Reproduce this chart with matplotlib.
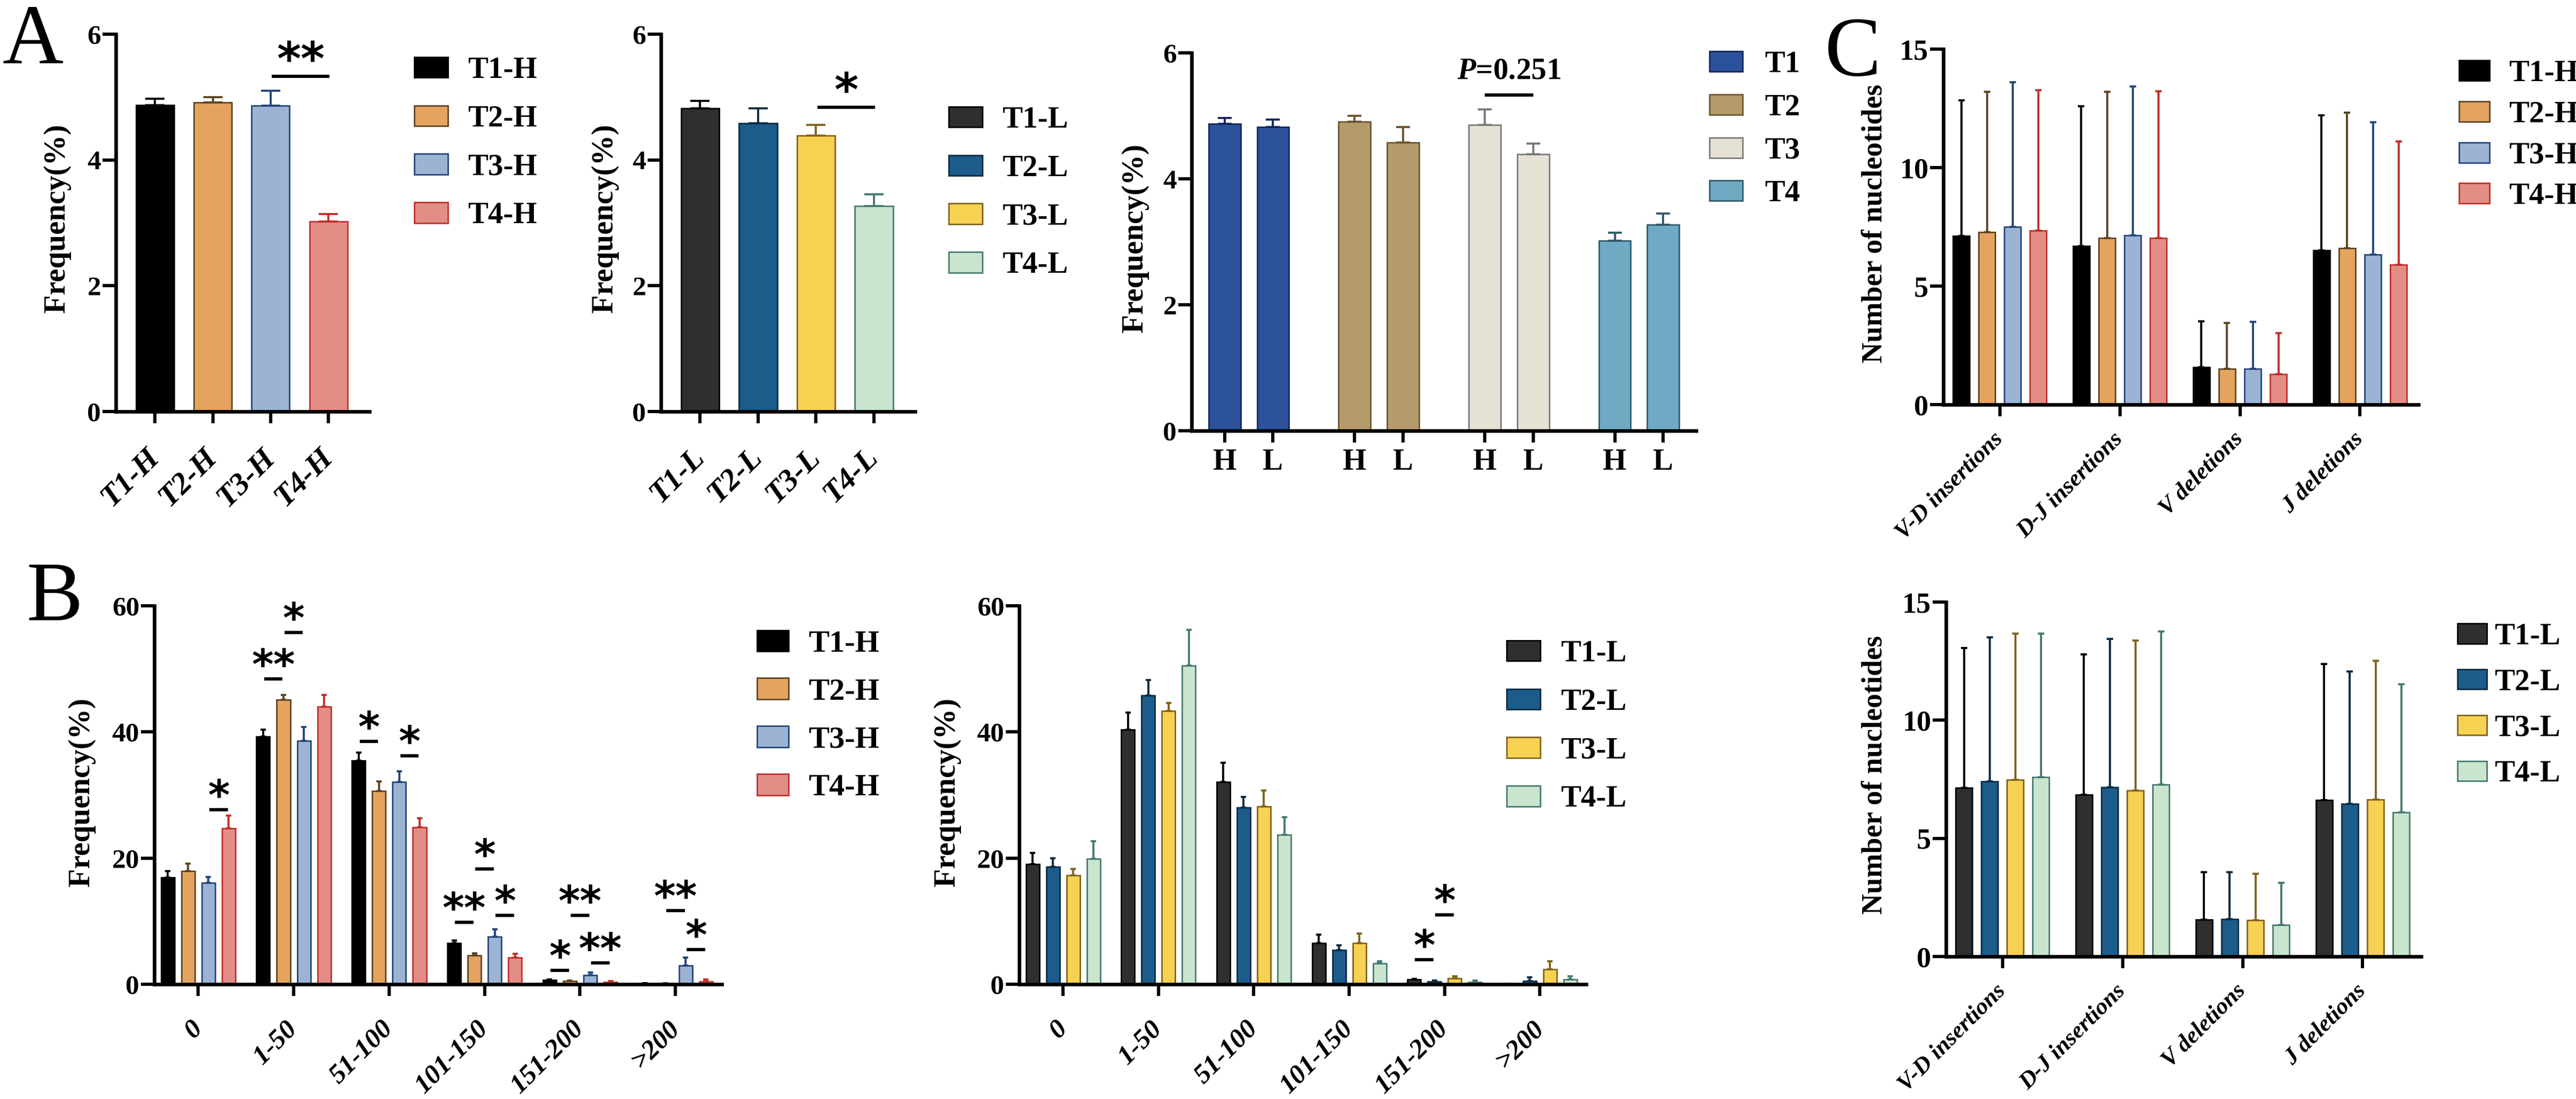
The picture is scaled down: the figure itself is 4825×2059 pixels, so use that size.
import numpy as np
import matplotlib
matplotlib.use("Agg")
import matplotlib.pyplot as plt

W, H = 4825, 2059
DPI = 200
PT = 72 / DPI  # points per pixel

plt.rcParams["font.family"] = ["Liberation Serif", "DejaVu Serif"]
plt.rcParams["font.weight"] = "bold"
plt.rcParams["mathtext.fontset"] = "custom"
plt.rcParams["mathtext.rm"] = "Liberation Serif:bold"
plt.rcParams["mathtext.it"] = "Liberation Serif:italic:bold"
plt.rcParams["mathtext.bf"] = "Liberation Serif:bold"

# ---------------- data ----------------
names_H = ["T1-H", "T2-H", "T3-H", "T4-H"]
names_L = ["T1-L", "T2-L", "T3-L", "T4-L"]
tissues = ["T1", "T2", "T3", "T4"]

# panel A: frequency (%)
a_H = [4.87, 4.91, 4.86, 3.02]
a_H_sd = [0.10, 0.09, 0.24, 0.12]
a_L = [4.82, 4.58, 4.39, 3.27]
a_L_sd = [0.12, 0.24, 0.17, 0.18]

# panel B: length bins, one row per sample group
len_bins = ["0", "1-50", "51-100", "101-150", "151-200", ">200"]
b_H = [
    [16.9, 39.3, 35.5, 6.5, 0.69, 0.17],
    [17.9, 45.1, 30.6, 4.6, 0.51, 0.17],
    [16.1, 38.6, 32.1, 7.5, 1.43, 2.97],
    [24.7, 44.0, 24.9, 4.2, 0.34, 0.46],
]
b_H_sd = [
    [1.0, 1.1, 1.2, 0.45, 0.11, 0.03],
    [1.25, 0.8, 1.55, 0.34, 0.12, 0.03],
    [0.9, 2.2, 1.7, 1.2, 0.40, 1.3],
    [2.05, 1.9, 1.4, 0.6, 0.17, 0.28],
]
b_L = [
    [19.0, 40.4, 32.1, 6.5, 0.74, 0.06],
    [18.6, 45.8, 28.0, 5.4, 0.46, 0.51],
    [17.3, 43.3, 28.2, 6.5, 0.97, 2.34],
    [19.9, 50.5, 23.7, 3.3, 0.34, 0.74],
]
b_L_sd = [
    [1.8, 2.7, 3.0, 1.4, 0.12, 0.03],
    [1.4, 2.4, 1.7, 0.8, 0.11, 0.58],
    [1.0, 1.3, 2.5, 1.55, 0.29, 1.26],
    [2.75, 5.65, 2.75, 0.3, 0.29, 0.57],
]

# panel C: number of nucleotides
c_cats = ["V-D insertions", "D-J insertions", "V deletions", "J deletions"]
c_H = [
    [7.12, 6.69, 1.58, 6.52],
    [7.28, 7.03, 1.51, 6.59],
    [7.51, 7.15, 1.51, 6.34],
    [7.35, 7.02, 1.29, 5.90],
]
c_H_sd = [
    [5.72, 5.91, 1.94, 5.68],
    [5.92, 6.17, 1.94, 5.72],
    [6.09, 6.27, 1.97, 5.57],
    [5.92, 6.20, 1.73, 5.20],
]
c_L = [
    [7.14, 6.84, 1.56, 6.61],
    [7.42, 7.16, 1.59, 6.46],
    [7.48, 7.03, 1.53, 6.64],
    [7.58, 7.28, 1.34, 6.09],
]
c_L_sd = [
    [5.91, 5.95, 2.00, 5.77],
    [6.08, 6.27, 1.97, 5.60],
    [6.18, 6.34, 1.98, 5.87],
    [6.09, 6.47, 1.77, 5.42],
]

# significance: (group, bar_i, bar_j, line height, label)
sig_A_H = [(0, 2, 3, 5.33, "**")]
sig_A_L = [(0, 2, 3, 4.84, "*")]
sig_A_T = [(2, 5.33, "$P$=0.251")]
sig_B_H = [
    (0, 2, 3, 27.7, "*"), (1, 0, 1, 48.4, "**"), (1, 1, 2, 55.8, "*"),
    (2, 0, 1, 38.5, "*"), (2, 2, 3, 36.2, "*"), (3, 0, 1, 9.8, "**"),
    (3, 1, 2, 18.3, "*"), (3, 2, 3, 10.9, "*"), (4, 0, 1, 2.2, "*"),
    (4, 1, 2, 10.9, "**"), (4, 2, 3, 3.4, "**"), (5, 1, 2, 11.7, "**"),
    (5, 2, 3, 5.5, "*"),
]
sig_B_L = [(4, 0, 1, 3.9, "*"), (4, 1, 2, 11.0, "*")]

# colours
face_H = ["#000000", "#e4a35f", "#9cb3d3", "#e28e86"]
edge_H = ["#000000", "#5c4424", "#24467a", "#c0302a"]
face_L = ["#2f2f2f", "#1b5c8b", "#f7d152", "#c9e5cd"]
edge_L = ["#000000", "#0c2a40", "#80641c", "#467a70"]
face_T = ["#2b519b", "#b59b6c", "#e5e1d5", "#6fa9c4"]
edge_T = ["#14285a", "#6b5530", "#7a7a7a", "#2e5a6a"]


# ---------------- helpers ----------------
def px_axes(fig, left, right, top, bottom):
    return fig.add_axes([left / W, 1 - bottom / H, (right - left) / W, (bottom - top) / H])


def style_axes(ax, ymax, yticks, ysize):
    ax.spines["top"].set_visible(False)
    ax.spines["right"].set_visible(False)
    for s in ("left", "bottom"):
        ax.spines[s].set_linewidth(2.4)
    ax.set_ylim(0, ymax)
    ax.set_yticks(yticks)
    ax.tick_params(axis="y", length=25 * PT, width=2.2, pad=1, labelsize=ysize)
    ax.tick_params(axis="x", length=22 * PT, width=2.2)
    ax.patch.set_alpha(0)


def draw_series(ax, xs, vals, sds, face, edge, width, cap, label):
    zeros = np.zeros(len(vals))
    return ax.bar(xs, vals, width, color=face, edgecolor=edge, linewidth=1.0,
                  yerr=[zeros, sds], label=label,
                  error_kw=dict(ecolor=edge, elinewidth=1.4, capsize=cap, capthick=1.4),
                  zorder=2)


def rotated_labels(ax, labels, size, pad):
    ax.set_xticklabels(labels, rotation=45, ha="right", va="center",
                       rotation_mode="anchor", fontsize=size, style="italic")
    ax.tick_params(axis="x", pad=pad)


def add_sig(ax, x0, x1, y, text, size, off, family="DejaVu Sans"):
    ax.plot([x0, x1], [y, y], color="black", lw=2.2, solid_capstyle="butt",
            clip_on=False, zorder=4)
    ax.annotate(text, xy=((x0 + x1) / 2, y), xytext=(0, off), textcoords="offset points",
                ha="center", va="baseline", fontsize=size, family=family,
                weight="bold", annotation_clip=False)


def add_legend(fig, handles, labels, x, first_y, row, fs, hw, hh, gap):
    fs_px = fs / PT
    top = first_y - 0.35 * fs_px
    return fig.legend(handles, labels, loc="upper left",
                      bbox_to_anchor=(x / W, 1 - top / H), frameon=False,
                      fontsize=fs, borderpad=0, borderaxespad=0,
                      handlelength=hw / fs_px, handleheight=hh / fs_px,
                      handletextpad=gap / fs_px,
                      labelspacing=(row - 0.9 * fs_px) / fs_px)


def ylabel(fig, text, x, y, size):
    fig.text(x / W, 1 - y / H, text, rotation=90, ha="center", va="center",
             fontsize=size, weight="bold")


fig = plt.figure(figsize=(W / DPI, H / DPI), dpi=DPI)

for letter, lx, ly in (("A", 5, 117), ("B", 49, 1162), ("C", 3417, 141)):
    fig.text(lx / W, 1 - ly / H, letter, fontsize=57, weight="normal",
             ha="left", va="baseline")

# ---------------- panel A ----------------
x4 = np.arange(4)
for (left, right, vals, sds, faces, edges, names, sigs, leg_x, leg_y, lab_x) in (
        (217, 692, a_H, a_H_sd, face_H, edge_H, names_H, sig_A_H, 776, 126, 107),
        (1238, 1714, a_L, a_L_sd, face_L, edge_L, names_L, sig_A_L, 1777, 219, 1133)):
    ax = px_axes(fig, left, right, 64, 771)
    handles = []
    for i in range(4):
        handles.append(draw_series(ax, [x4[i]], [vals[i]], [sds[i]], faces[i], edges[i],
                                   0.657, 18 * PT, names[i]))
    style_axes(ax, 6, [0, 2, 4, 6], 18.5)
    ax.set_xlim(-0.676, 3.71)
    ax.set_xticks(x4)
    rotated_labels(ax, names, 21, 20)
    for g, i, j, y, s in sigs:
        add_sig(ax, x4[i] + 0.02, x4[j] + 0.02, y, s, 31, 1)
    add_legend(fig, handles, names, leg_x, leg_y, 90, 20.5, 63, 38, 37)
    ylabel(fig, "Frequency(%)", lab_x, 409, 20.5)

# A3: H vs L per tissue
ax = px_axes(fig, 2232, 3177, 99, 807)
handles = []
off = 0.186
for g in range(4):
    handles.append(draw_series(ax, [g - off, g + off], [a_H[g], a_L[g]], [a_H_sd[g], a_L_sd[g]],
                               face_T[g], edge_T[g], 0.246, 13 * PT, tissues[g]))
style_axes(ax, 6, [0, 2, 4, 6], 18.5)
ax.set_xlim(-0.44, 3.44)
ax.set_xticks([g + d for g in range(4) for d in (-off, off)])
ax.set_xticklabels(["H", "L"] * 4, fontsize=20.5)
ax.tick_params(axis="x", pad=4)
for g, y, s in sig_A_T:
    add_sig(ax, g - off, g + off, y, s, 20.5, 11, family="Liberation Serif")
add_legend(fig, handles, tissues, 3202, 115, 80, 20.5, 62, 37, 41)
ylabel(fig, "Frequency(%)", 2126, 446, 20.5)

# ---------------- panel B ----------------
x6 = np.arange(6)
for (left, right, vals, sds, faces, edges, names, sigs, leg, lab_x) in (
        (289, 1352, b_H, b_H_sd, face_H, edge_H, names_H, sig_B_H,
         (1418, 1201, 90, 21, 59, 39, 37), 153),
        (1909, 2971, b_L, b_L_sd, face_L, edge_L, names_L, sig_B_L,
         (2822, 1219, 90, 20.5, 63, 38, 38), 1774)):
    ax = px_axes(fig, left, right, 1135, 1844)
    step = 0.213
    handles = []
    for i in range(4):
        handles.append(draw_series(ax, x6 + (i - 1.5) * step, vals[i], sds[i], faces[i],
                                   edges[i], 0.14, 5 * PT, names[i]))
    style_axes(ax, 60, [0, 20, 40, 60], 18.5)
    ax.set_xlim(-0.46, 5.485)
    ax.set_xticks(x6)
    rotated_labels(ax, len_bins, 18.5, 19.5)
    for g, i, j, y, s in sigs:
        add_sig(ax, g + (i - 1.5) * step + 0.01, g + (j - 1.5) * step - 0.01, y, s, 28, 0)
    add_legend(fig, handles, names, *leg)
    ylabel(fig, "Frequency(%)", lab_x, 1484, 20.5)

# ---------------- panel C ----------------
for (left, right, top, bottom, vals, sds, faces, edges, names, leg, lab_y) in (
        (3640, 4530, 92, 758, c_H, c_H_sd, face_H, edge_H, names_H,
         (4606, 132, 76, 20.5, 57, 37, 36), 419),
        (3645, 4535, 1128, 1792, c_L, c_L_sd, face_L, edge_L, names_L,
         (4603, 1187, 85, 20.5, 55, 36, 14), 1452)):
    ax = px_axes(fig, left, right, top, bottom)
    step = 0.214
    handles = []
    for i in range(4):
        handles.append(draw_series(ax, x4 + (i - 1.5) * step, vals[i], sds[i], faces[i],
                                   edges[i], 0.138, 6 * PT, names[i]))
    style_axes(ax, 15, [0, 5, 10, 15], 19.5)
    ax.set_xlim(-0.47, 3.487)
    ax.set_xticks(x4)
    rotated_labels(ax, c_cats, 16, 13)
    add_legend(fig, handles, names, *leg)
    ylabel(fig, "Number of nucleotides", 3513, lab_y, 19.5)

fig.savefig("out.png", dpi=DPI)
